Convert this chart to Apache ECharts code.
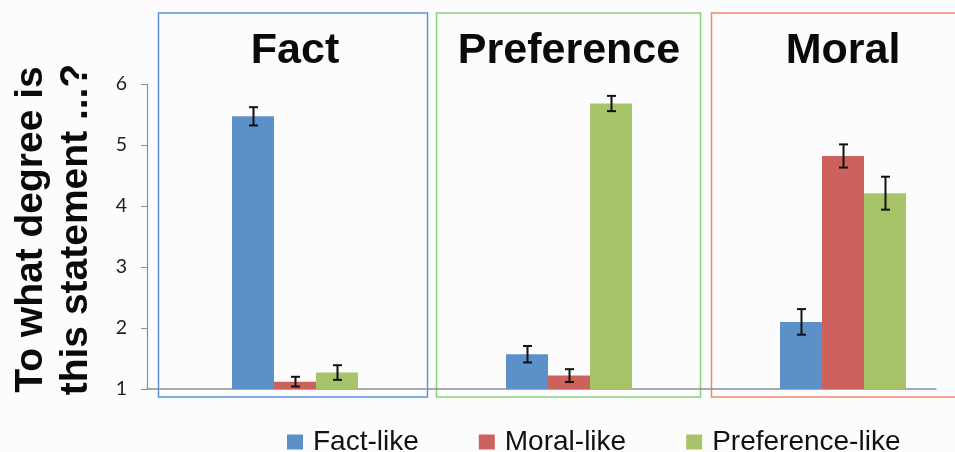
<!DOCTYPE html>
<html>
<head>
<meta charset="utf-8">
<script src="https://cdn.jsdelivr.net/npm/echarts@6/dist/echarts.min.js"></script>
<style>
  html, body { margin: 0; padding: 0; background: #fcfcfd; }
  #chart { width: 955px; height: 452px; }
</style>
</head>
<body>
<div id="chart"></div>
<script>
// Statement categories and the three rating scales
const categories = ['Fact', 'Preference', 'Moral'];
const seriesNames = ['Fact-like', 'Moral-like', 'Preference-like'];

// Mean ratings per category
const factLike = [5.47, 1.57, 2.10];
const moralLike = [1.12, 1.22, 4.82];
const preferenceLike = [1.27, 5.68, 4.21];

// Standard errors per category
const factLikeErr = [0.15, 0.135, 0.21];
const moralLikeErr = [0.08, 0.105, 0.19];
const preferenceLikeErr = [0.12, 0.125, 0.27];

// Rating scale shown on the value axis
const yMin = 1, yMax = 6, yStep = 1;

const colors = ['#5b91c8', '#cd625d', '#a8c46a'];
const BAR_W = 42;
const means = [factLike, moralLike, preferenceLike];
const errs = [factLikeErr, moralLikeErr, preferenceLikeErr];

const chart = echarts.init(document.getElementById('chart'), null, { renderer: 'canvas' });

const barSeries = means.map((vals, s) => ({
  name: seriesNames[s],
  type: 'bar',
  xAxisIndex: 0,
  yAxisIndex: 1,
  barWidth: BAR_W,
  barGap: '0%',
  itemStyle: { color: colors[s] },
  data: vals,
  z: 3
}));

const errSeries = means.map((vals, s) => ({
  name: seriesNames[s],
  type: 'custom',
  xAxisIndex: 0,
  yAxisIndex: 1,
  z: 5,
  silent: true,
  data: vals.map((v, i) => [i, v, errs[s][i]]),
  renderItem: function (params, api) {
    const i = api.value(0), m = api.value(1), e = api.value(2);
    const top = api.coord([i, m + e]);
    const bot = api.coord([i, m - e]);
    const x = Math.round(top[0] + (s - 1) * BAR_W) + 0.5;
    const cap = 4.5;
    const style = { stroke: '#111', lineWidth: 2, fill: null };
    return {
      type: 'group',
      children: [
        { type: 'line', shape: { x1: x, y1: top[1], x2: x, y2: bot[1] }, style: style },
        { type: 'line', shape: { x1: x - cap, y1: top[1], x2: x + cap, y2: top[1] }, style: style },
        { type: 'line', shape: { x1: x - cap, y1: bot[1], x2: x + cap, y2: bot[1] }, style: style }
      ]
    };
  }
}));

const boxes = [
  { x: 158.5, w: 269, color: '#5a93db' },
  { x: 436.5, w: 264, color: '#8ccf7a' },
  { x: 711.5, w: 260, color: '#f2876b' }
];

chart.setOption({
  backgroundColor: '#fcfcfd',
  animation: false,
  textStyle: { fontFamily: 'Liberation Sans, Arial, sans-serif' },
  grid: [
    { left: 158, width: 822, top: 84, height: 305, outerBoundsMode: 'none', containLabel: false },
    { left: 147, width: 789, top: 84, height: 305, outerBoundsMode: 'none', containLabel: false }
  ],
  legend: {
    data: seriesNames,
    left: 282,
    top: 423,
    itemWidth: 16,
    itemHeight: 15,
    itemGap: 60,
    icon: 'rect',
    selectedMode: false,
    textStyle: { fontSize: 28, color: '#111', padding: [0, 0, 0, 5], fontFamily: 'Liberation Sans, Arial, sans-serif' }
  },
  xAxis: [
    {
      type: 'category',
      gridIndex: 0,
      position: 'top',
      data: categories,
      axisLine: { show: false },
      axisTick: { show: false },
      axisLabel: {
        interval: 0, hideOverlap: false,
        fontSize: 43, fontWeight: 'bold', color: '#0a0a0a', margin: 11, lineHeight: 43
      }
    },
    {
      type: 'category',
      gridIndex: 1,
      data: categories,
      axisLine: { show: true, lineStyle: { color: '#8a8f94', width: 1.5 } },
      axisTick: { show: false },
      axisLabel: { show: false }
    }
  ],
  yAxis: [
    {
      type: 'value',
      gridIndex: 1,
      min: yMin,
      max: yMax,
      interval: yStep,
      splitLine: { show: false },
      axisLine: { show: true, lineStyle: { color: '#8a8f94', width: 1.2 } },
      axisTick: { show: true, length: 6, lineStyle: { color: '#8a8f94' } },
      axisLabel: { fontSize: 19.5, color: '#1e1e1e', margin: 20, fontFamily: 'Lato, sans-serif' },
      name: 'To what degree is\nthis statement ...?',
      nameLocation: 'middle',
      nameGap: 48,
      nameTextStyle: {
        fontSize: 39, fontWeight: 'bold', color: '#0a0a0a', lineHeight: 45,
        padding: [0, 0, 0, 14], fontFamily: 'Liberation Sans, Arial, sans-serif'
      }
    },
    {
      type: 'value',
      gridIndex: 0,
      min: yMin,
      max: yMax,
      interval: yStep,
      show: false,
      splitLine: { show: false }
    }
  ],
  graphic: boxes.map(b => ({
    type: 'rect',
    silent: true,
    z: -1,
    shape: { x: b.x, y: 13, width: b.w, height: 384 },
    style: { fill: null, stroke: b.color, lineWidth: 1.5 }
  })),
  series: barSeries.concat(errSeries)
});
</script>
</body>
</html>
